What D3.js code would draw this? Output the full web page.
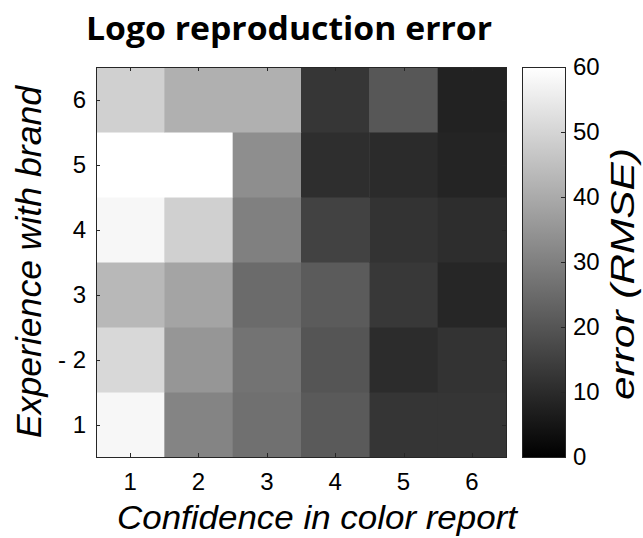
<!DOCTYPE html>
<html>
<head>
<meta charset="utf-8">
<script src="https://cdn.jsdelivr.net/npm/d3@7"></script>
<style>
  body { margin: 0; background: #fff; }
  text { font-family: "Liberation Sans", Arial, sans-serif; fill: #000; }
  .title { font-family: "Open Sans", "Lato", sans-serif; font-weight: bold; }
  .axis-label { font-style: italic; }
</style>
</head>
<body>
<svg id="chart" width="643" height="538"></svg>
<script>
// data (rows: experience 1..6, cols: confidence 1..6)
var confidence = [1, 2, 3, 4, 5, 6];
var experience = [1, 2, 3, 4, 5, 6];
var y_tick_labels = ['1', '- 2', '3', '4', '5', '6'];
var rmse = [
  [58.0, 31.0, 26.4, 21.2, 12.5, 12.5],  // exp 1
  [50.8, 35.3, 27.0, 20.0, 10.4, 12.0],  // exp 2
  [43.3, 38.6, 25.2, 21.4, 13.2, 8.9],   // exp 3
  [58.0, 49.0, 30.0, 15.5, 12.0, 10.6],  // exp 4
  [60.0, 60.0, 33.4, 10.8, 10.1, 8.5],   // exp 5
  [49.0, 41.4, 41.4, 12.7, 20.5, 8.0]    // exp 6
];
var cbar_ticks = [0, 10, 20, 30, 40, 50, 60];

var margin = {top: 67, left: 96},
    plot_w = 410,
    plot_h = 390,
    cbar_x = 522,
    cbar_w = 43,
    tick_len = 4;

var svg = d3.select('#chart');

var x = d3.scaleBand().domain(confidence).range([margin.left, margin.left + plot_w]);
var y = d3.scaleBand().domain(experience).range([margin.top + plot_h, margin.top]);
var color = function(v) { var g = Math.round(255 * v / 60); return d3.rgb(g, g, g); };

var cells = [];
rmse.forEach(function(row, i) {
  row.forEach(function(v, j) {
    cells.push({exp: experience[i], conf: confidence[j], value: v});
  });
});

svg.append('g').selectAll('rect')
  .data(cells)
  .enter()
  .append('rect')
  .attr('x', function(d) { return x(d.conf); })
  .attr('y', function(d) { return y(d.exp); })
  .attr('width', x.bandwidth() + 0.5)
  .attr('height', y.bandwidth() + 0.5)
  .attr('fill', function(d) { return color(d.value); });

// ticks inside the box, on all four sides
var ticks = svg.append('g').attr('stroke', '#262626').attr('stroke-width', 1);
confidence.forEach(function(c) {
  var cx = Math.round(x(c) + x.bandwidth() / 2) + 0.5;
  ticks.append('line').attr('x1', cx).attr('x2', cx)
    .attr('y1', margin.top + plot_h).attr('y2', margin.top + plot_h - tick_len);
  ticks.append('line').attr('x1', cx).attr('x2', cx)
    .attr('y1', margin.top).attr('y2', margin.top + tick_len);
});
experience.forEach(function(e) {
  var cy = Math.round(y(e) + y.bandwidth() / 2) + 0.5;
  ticks.append('line').attr('y1', cy).attr('y2', cy)
    .attr('x1', margin.left).attr('x2', margin.left + tick_len);
  ticks.append('line').attr('y1', cy).attr('y2', cy)
    .attr('x1', margin.left + plot_w).attr('x2', margin.left + plot_w - tick_len);
});

svg.append('rect')
  .attr('x', margin.left + 0.5).attr('y', margin.top + 0.5)
  .attr('width', plot_w).attr('height', plot_h)
  .attr('fill', 'none').attr('stroke', '#262626').attr('stroke-width', 1);

// tick labels
svg.append('g').selectAll('text')
  .data(confidence)
  .enter()
  .append('text')
  .attr('x', function(d) { return x(d) + x.bandwidth() / 2; })
  .attr('y', 490)
  .attr('text-anchor', 'middle')
  .attr('font-size', 24)
  .attr('fill', '#262626')
  .text(function(d) { return d; });

svg.append('g').selectAll('text')
  .data(experience)
  .enter()
  .append('text')
  .attr('x', 86)
  .attr('y', function(d) { return y(d) + y.bandwidth() / 2; })
  .attr('dy', '0.35em')
  .attr('text-anchor', 'end')
  .attr('font-size', 24)
  .attr('fill', '#262626')
  .text(function(d, i) { return y_tick_labels[i]; });

// colorbar
var cb = d3.scaleLinear().domain([0, 60]).range([margin.top + plot_h, margin.top]);
var grad = svg.append('defs').append('linearGradient')
  .attr('id', 'cbar-grad').attr('x1', 0).attr('x2', 0).attr('y1', 1).attr('y2', 0);
grad.append('stop').attr('offset', '0%').attr('stop-color', color(0));
grad.append('stop').attr('offset', '100%').attr('stop-color', color(60));

svg.append('rect')
  .attr('x', cbar_x + 0.5).attr('y', margin.top + 0.5)
  .attr('width', cbar_w).attr('height', plot_h)
  .attr('fill', 'url(#cbar-grad)')
  .attr('stroke', '#262626').attr('stroke-width', 1);

var cb_ticks = svg.append('g').attr('stroke', '#262626');
cbar_ticks.forEach(function(t) {
  var ty = Math.round(cb(t)) + 0.5;
  cb_ticks.append('line').attr('x1', cbar_x + cbar_w).attr('x2', cbar_x + cbar_w - tick_len)
    .attr('y1', ty).attr('y2', ty);
});

svg.append('g').selectAll('text')
  .data(cbar_ticks)
  .enter()
  .append('text')
  .attr('x', 573)
  .attr('y', function(d) { return cb(d); })
  .attr('dy', '0.35em')
  .attr('font-size', 24)
  .attr('fill', '#262626')
  .text(function(d) { return d; });

// titles
svg.append('text')
  .attr('class', 'title')
  .attr('x', 289).attr('y', 40)
  .attr('text-anchor', 'middle')
  .attr('font-size', 32)
  .attr('textLength', 406)
  .attr('lengthAdjust', 'spacingAndGlyphs')
  .text('Logo reproduction error');

svg.append('text')
  .attr('class', 'axis-label')
  .attr('x', 317).attr('y', 529)
  .attr('text-anchor', 'middle')
  .attr('font-size', 34)
  .attr('textLength', 400)
  .attr('lengthAdjust', 'spacingAndGlyphs')
  .text('Confidence in color report');

svg.append('text')
  .attr('class', 'axis-label')
  .attr('transform', 'translate(41,262) rotate(-90)')
  .attr('text-anchor', 'middle')
  .attr('font-size', 35)
  .attr('textLength', 352)
  .attr('lengthAdjust', 'spacingAndGlyphs')
  .text('Experience with brand');

svg.append('text')
  .attr('class', 'axis-label')
  .attr('transform', 'translate(634,274) rotate(-90)')
  .attr('text-anchor', 'middle')
  .attr('font-size', 34)
  .attr('textLength', 252)
  .attr('lengthAdjust', 'spacingAndGlyphs')
  .text('error (RMSE)');
</script>
</body>
</html>
